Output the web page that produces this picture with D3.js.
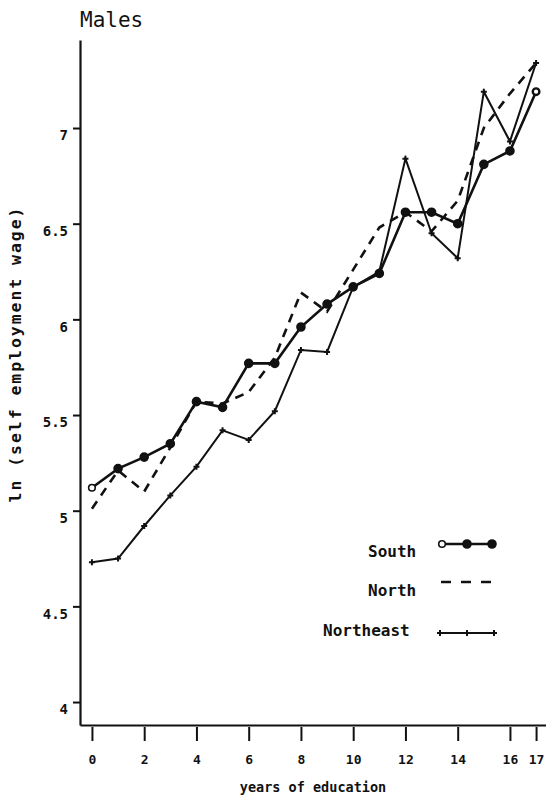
<!DOCTYPE html>
<html>
<head>
<meta charset="utf-8">
<script src="https://cdn.jsdelivr.net/npm/d3@7"></script>
<style>
  html, body { margin: 0; padding: 0; background: #fff; }
  svg { display: block; }
  text { font-family: "DejaVu Sans Mono", "Liberation Mono", monospace; fill: #111; }
</style>
</head>
<body>
<svg id="chart" width="546" height="801"></svg>
<script>
// ---- data ----
const years = [0,1,2,3,4,5,6,7,8,9,10,11,12,13,14,15,16,17];
const south = [5.12,5.22,5.28,5.35,5.57,5.54,5.77,5.77,5.96,6.08,6.17,6.24,6.56,6.56,6.50,6.81,6.88,7.19];
const north = [5.01,5.21,5.10,5.33,5.57,5.56,5.62,5.80,6.14,6.04,6.26,6.48,6.56,6.46,6.62,7.00,7.18,7.34];
const northeast = [4.73,4.75,4.92,5.08,5.23,5.42,5.37,5.52,5.84,5.83,6.17,6.25,6.84,6.45,6.32,7.19,6.93,7.34];
const xTicks = [0,2,4,6,8,10,12,14,16,17];
const yTicks = [4,4.5,5,5.5,6,6.5,7];
const yTickLabels = ["4","4.5","5","5.5","6","6.5","7"];
const seriesNames = ["South","North","Northeast"];
const title = "Males";
const xTitle = "years of education";
const yTitle = "ln (self employment wage)";

const svg = d3.select("#chart");
const ink = "#111";

const x = d3.scaleLinear().domain([-0.457, 17.38]).range([80, 546]);
const y = d3.scaleLinear().domain([3.88, 7.46]).range([725, 40]);

// title
svg.append("text").attr("x", 80).attr("y", 27)
  .attr("font-size", 21).text(title);

// y axis
const yAxis = svg.append("g").attr("transform", "translate(80,0)")
  .call(d3.axisLeft(y).tickValues(yTicks).tickSize(7).tickSizeOuter(0)
    .tickFormat((d, i) => yTickLabels[i]));
yAxis.select(".domain").attr("stroke", ink).attr("stroke-width", 2.2);
yAxis.selectAll(".tick line").attr("stroke", ink).attr("stroke-width", 2);
yAxis.selectAll(".tick text").attr("x", -12).attr("dy", "0.85em")
  .attr("font-size", 14).attr("font-weight", "bold")
  .style("font-family", "'DejaVu Sans Mono', monospace").attr("fill", ink);

// x axis
const xAxis = svg.append("g").attr("transform", "translate(0,725)")
  .call(d3.axisBottom(x).tickValues(xTicks).tickSize(16).tickSizeOuter(0));
xAxis.select(".domain").attr("stroke", ink).attr("stroke-width", 2.2);
xAxis.selectAll(".tick line").attr("stroke", ink).attr("stroke-width", 2).attr("y1", 2);
xAxis.selectAll(".tick text").attr("y", 30)
  .attr("font-size", 13).attr("font-weight", "bold")
  .style("font-family", "'DejaVu Sans Mono', monospace").attr("fill", ink);

// axis titles
svg.append("text").attr("x", 313).attr("y", 792).attr("text-anchor", "middle")
  .attr("font-size", 13.5).attr("font-weight", "bold").text(xTitle);
svg.append("text")
  .attr("transform", "translate(21,355) rotate(-90)")
  .attr("text-anchor", "middle")
  .attr("font-size", 16.5).attr("font-weight", "bold")
  .attr("textLength", 295).attr("lengthAdjust", "spacing")
  .text(yTitle);

const line = d3.line().x((d, i) => x(years[i])).y(d => y(d));

// North (dashed)
svg.append("path").datum(north).attr("d", line)
  .attr("fill", "none").attr("stroke", ink).attr("stroke-width", 2.6)
  .attr("stroke-dasharray", "9,7");

// Northeast (thin line + plus markers)
svg.append("path").datum(northeast).attr("d", line)
  .attr("fill", "none").attr("stroke", ink).attr("stroke-width", 2);
function plus(g, cx, cy) {
  g.append("path")
    .attr("d", `M${cx-3},${cy}H${cx+3}M${cx},${cy-3}V${cy+3}`)
    .attr("stroke", ink).attr("stroke-width", 2);
}
const neG = svg.append("g");
northeast.forEach((v, i) => plus(neG, x(years[i]), y(v)));

// South (thick line + circle markers)
svg.append("path").datum(south).attr("d", line)
  .attr("fill", "none").attr("stroke", ink).attr("stroke-width", 2.6);
svg.append("g").selectAll("circle").data(south).join("circle")
  .attr("cx", (d, i) => x(years[i])).attr("cy", d => y(d))
  .attr("r", (d, i) => (i === 0 || i === south.length - 1) ? 3.3 : 4)
  .attr("fill", (d, i) => (i === 0 || i === south.length - 1) ? "#fff" : ink)
  .attr("stroke", ink).attr("stroke-width", (d, i) => i === south.length - 1 ? 2.4 : 1.6);

// legend
const lg = svg.append("g");
const legY = [544, 582, 633];
const txtY = [557, 596, 636];
const txtX = [368, 368, 323];
seriesNames.forEach((n, k) => {
  lg.append("text").attr("x", txtX[k]).attr("y", txtY[k])
    .attr("font-size", 16).attr("font-weight", "bold").text(n);
});
// South sample
lg.append("line").attr("x1", 442).attr("x2", 492).attr("y1", legY[0]).attr("y2", legY[0])
  .attr("stroke", ink).attr("stroke-width", 2.6);
[442, 467, 492].forEach((cx, i) => {
  lg.append("circle").attr("cx", cx).attr("cy", legY[0]).attr("r", i === 0 ? 3.3 : 4)
    .attr("fill", i === 0 ? "#fff" : ink).attr("stroke", ink).attr("stroke-width", 1.6);
});
// North sample
lg.append("line").attr("x1", 441).attr("x2", 492).attr("y1", legY[1]).attr("y2", legY[1])
  .attr("stroke", ink).attr("stroke-width", 2.6).attr("stroke-dasharray", "10,10");
// Northeast sample
lg.append("line").attr("x1", 440).attr("x2", 494).attr("y1", legY[2]).attr("y2", legY[2])
  .attr("stroke", ink).attr("stroke-width", 2);
[440, 467, 494].forEach(cx => plus(lg, cx, legY[2]));
</script>
</body>
</html>
